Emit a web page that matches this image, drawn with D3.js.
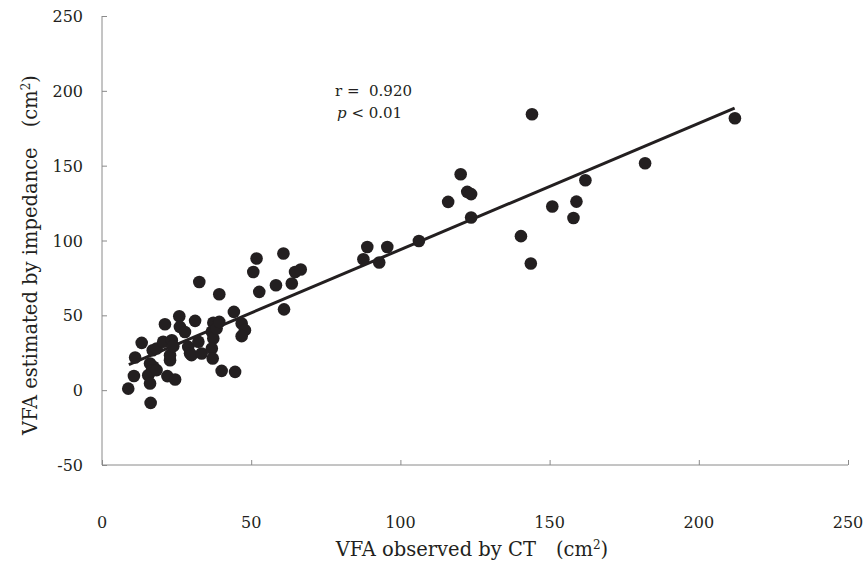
<!DOCTYPE html>
<html>
<head>
<meta charset="utf-8">
<script src="https://cdn.jsdelivr.net/npm/d3@7"></script>
<style>
  body { margin: 0; background: #fff; }
  svg text { font-family: "DejaVu Serif", "Liberation Serif", serif; fill: #231f20; }
</style>
</head>
<body>
<div id="chart"></div>
<script>
// VFA observed by CT (x) vs VFA estimated by impedance (y), cm2
const ctVfa = [8.8, 10.7, 11.1, 13.3, 15.5, 16.1, 16.3, 16.1, 17.2, 16.7, 17, 18.3, 18.3, 20.5, 21.1,
  21.9, 22.8, 22.8, 23.4, 23.9, 24.5, 25.9, 26.1, 27.8, 28.9, 29.5, 30, 31.2, 32.3, 32.6, 33.4,
  36.8, 37.3, 37.3, 36.8, 37.1, 38.4, 39.3, 39.3, 40.1, 44.2, 44.6, 46.8, 47.9, 46.8, 50.7, 51.8,
  52.7, 58.3, 60.8, 61, 63.6, 64.7, 66.6, 87.6, 88.9, 92.9, 95.6, 106.2, 116, 120.2, 122.4, 123.7,
  123.7, 140.4, 143.7, 144.1, 150.9, 158, 159, 162, 182, 212.1];
const impVfa = [1, 9.5, 21.8, 31.6, 10, 4.5, -8.5, 17.8, 15.6, 13, 26.7, 27.8, 13.4, 32.3, 44,
  9.4, 20, 23.4, 33.4, 29.4, 7.1, 49.4, 42.3, 38.9, 28.9, 24.6, 23.4, 46.3, 32.3, 72.3, 24.5,
  39, 45, 34.5, 27.8, 21.2, 41.2, 45.6, 64.1, 12.9, 52.3, 12.2, 44.5, 40.1, 36.1, 79, 88,
  65.7, 70.1, 91.3, 54, 71.3, 79, 80.6, 87.5, 95.7, 85.3, 95.7, 99.7, 125.8, 144.3, 132.5, 131,
  115.4, 102.9, 84.6, 184.4, 122.7, 115, 126, 140.3, 151.6, 181.7];

// regression line end points
const fitX = [9, 212];
const fitY = [17, 188.5];

const xTicks = [0, 50, 100, 150, 200, 250];
const yTicks = [-50, 0, 50, 100, 150, 200, 250];

const width = 865, height = 562;

const svg = d3.select("#chart").append("svg")
  .attr("width", width)
  .attr("height", height);

let x = d3.scaleLinear().domain([0, 250]).range([102, 848]);
let y = d3.scaleLinear().domain([-50, 250]).range([465, 16]);

const axisColor = "#8a8a8a";

// x axis, ticks point up into the plot
let xAxis = svg.append("g")
  .attr("transform", `translate(0,${y(-50)})`)
  .call(d3.axisTop(x).tickValues(xTicks).tickSize(5).tickFormat(""));
xAxis.select(".domain").attr("stroke", axisColor).attr("d", `M${x(0)},0H${x(250)}`);
xAxis.selectAll(".tick line").attr("stroke", axisColor);

xTicks.forEach(t =>
  svg.append("text")
    .attr("x", x(t))
    .attr("y", 528)
    .attr("text-anchor", "middle")
    .attr("font-size", 16)
    .text(t.toString())
);

// y axis, ticks point right
let yAxis = svg.append("g")
  .attr("transform", `translate(${x(0)},0)`)
  .call(d3.axisRight(y).tickValues(yTicks).tickSize(5).tickFormat(""));
yAxis.select(".domain").attr("stroke", axisColor).attr("d", `M0,${y(250)}V${y(-50)}`);
yAxis.selectAll(".tick line").attr("stroke", axisColor);

yTicks.forEach(t =>
  svg.append("text")
    .attr("x", 83)
    .attr("y", y(t) + 6)
    .attr("text-anchor", "end")
    .attr("font-size", 16)
    .text(t.toString())
);

// fitted line
let line = d3.line()
  .x(d => x(d[0]))
  .y(d => y(d[1]));

svg.append("path")
  .datum(d3.zip(fitX, fitY))
  .attr("d", line)
  .attr("fill", "none")
  .attr("stroke", "#231f20")
  .attr("stroke-width", 3);

// points
svg.selectAll("circle.pt")
  .data(d3.zip(ctVfa, impVfa))
  .enter().append("circle")
  .attr("class", "pt")
  .attr("cx", d => x(d[0]))
  .attr("cy", d => y(d[1]))
  .attr("r", 6.3)
  .attr("fill", "#231f20");

// annotation
svg.append("text")
  .attr("x", 335)
  .attr("y", 96)
  .attr("font-size", 15)
  .attr("xml:space", "preserve")
  .text("r =  0.920");

let pText = svg.append("text")
  .attr("x", 337)
  .attr("y", 118)
  .attr("font-size", 15);
pText.append("tspan").attr("font-style", "italic").text("p");
pText.append("tspan").text(" < 0.01");

// axis titles
let xTitle = svg.append("text")
  .attr("x", 472)
  .attr("y", 556)
  .attr("text-anchor", "middle")
  .attr("font-size", 19.5);
xTitle.append("tspan").text("VFA observed by CT\u3000(cm");
xTitle.append("tspan").attr("font-size", 12).attr("dy", -7).text("2");
xTitle.append("tspan").attr("dy", 7).text(")");

let yTitle = svg.append("text")
  .attr("transform", "translate(37,255) rotate(-90)")
  .attr("text-anchor", "middle")
  .attr("font-size", 19.5);
yTitle.append("tspan").text("VFA estimated by impedance\u3000(cm");
yTitle.append("tspan").attr("font-size", 12).attr("dy", -7).text("2");
yTitle.append("tspan").attr("dy", 7).text(")");
</script>
</body>
</html>
